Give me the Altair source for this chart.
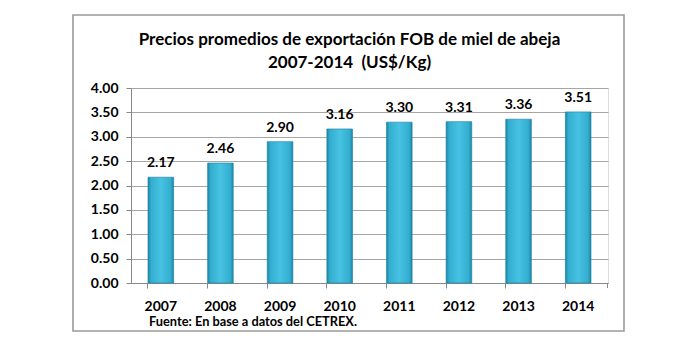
import altair as alt
import pandas as pd

years = ["2007", "2008", "2009", "2010", "2011", "2012", "2013", "2014"]
prices = [2.17, 2.46, 2.90, 3.16, 3.30, 3.31, 3.36, 3.51]
y_ticks = [0, 0.5, 1.0, 1.5, 2.0, 2.5, 3.0, 3.5, 4.0]
title_lines = ["Precios promedios de exportación FOB de miel de abeja", "2007-2014\u00a0 (US$/Kg)"]
source_text = "Fuente: En base a datos del CETREX."

df = pd.DataFrame({"year": years, "price": prices})

FONT = "Lato"
W, H = 477, 195

grad = alt.Gradient(
    gradient="linear", x1=0, x2=1, y1=0, y2=0,
    stops=[
        alt.GradientStop(offset=0, color="#1b86a6"),
        alt.GradientStop(offset=0.12, color="#34aed0"),
        alt.GradientStop(offset=0.5, color="#47c2e2"),
        alt.GradientStop(offset=0.88, color="#34aed0"),
        alt.GradientStop(offset=1, color="#1b86a6"),
    ],
)

base = alt.Chart(df)

x_enc = alt.X(
    "year:N", title=None, sort=years,
    scale=alt.Scale(paddingInner=0.57, paddingOuter=0.285),
    axis=alt.Axis(labelAngle=0, labelFont=FONT, labelFontSize=14, labelFontWeight="bold",
                  labelColor="#000000", labelPadding=11, tickSize=5, tickColor="#888888",
                  domainColor="#888888", bandPosition=0, grid=False),
)
y_enc = alt.Y(
    "price:Q", title=None,
    scale=alt.Scale(domain=[0, 4], nice=False),
    axis=alt.Axis(values=y_ticks, format=".2f", labelFont=FONT, labelFontSize=14,
                  labelFontWeight="bold", labelColor="#000000", labelPadding=8, tickSize=5,
                  labelOverlap=False,
                  tickColor="#888888", domainColor="#888888", gridColor="#a6a6a6", gridWidth=1),
)

bars = base.mark_bar(fill=grad, stroke="#1a7f9c", strokeWidth=0.6).encode(x=x_enc, y=y_enc)

labels = base.mark_text(font=FONT, fontSize=14, fontWeight="bold", baseline="bottom", dy=-7,
                        color="#000000").encode(
    x=x_enc,
    y=y_enc,
    text=alt.Text("price:Q", format=".2f"),
)

one = pd.DataFrame({"a": [0]})

frame = alt.Chart(one).mark_rect(fill=None, stroke="#9a9a9a", strokeWidth=1.6).encode(
    x=alt.value(-58), x2=alt.value(493), y=alt.value(-73), y2=alt.value(243)
)

end_tick = alt.Chart(one).mark_rule(color="#888888", strokeWidth=1).encode(
    x=alt.value(W - 0.5), y=alt.value(H), y2=alt.value(H + 5)
)

source = alt.Chart(pd.DataFrame({"t": [source_text]})).mark_text(
    font=FONT, fontSize=12.8, fontWeight="bold", align="left", baseline="middle", color="#000000"
).encode(x=alt.value(18), y=alt.value(234), text="t:N")

chart = alt.layer(frame, bars, labels, end_tick, source).properties(
    width=W, height=H,
    autosize=alt.AutoSizeParams(type="none"),
    padding={"left": 131, "top": 88, "right": 92, "bottom": 61},
    title=alt.TitleParams(text=title_lines, font=FONT, fontSize=17, fontWeight="bold",
                          color="#000000", anchor="middle", offset=-58, lineHeight=23,
                          frame="group", dx=-20),
).configure_view(stroke=None).configure(background="white")

chart.save("out.html", embed_options={"renderer": "svg", "actions": False})
